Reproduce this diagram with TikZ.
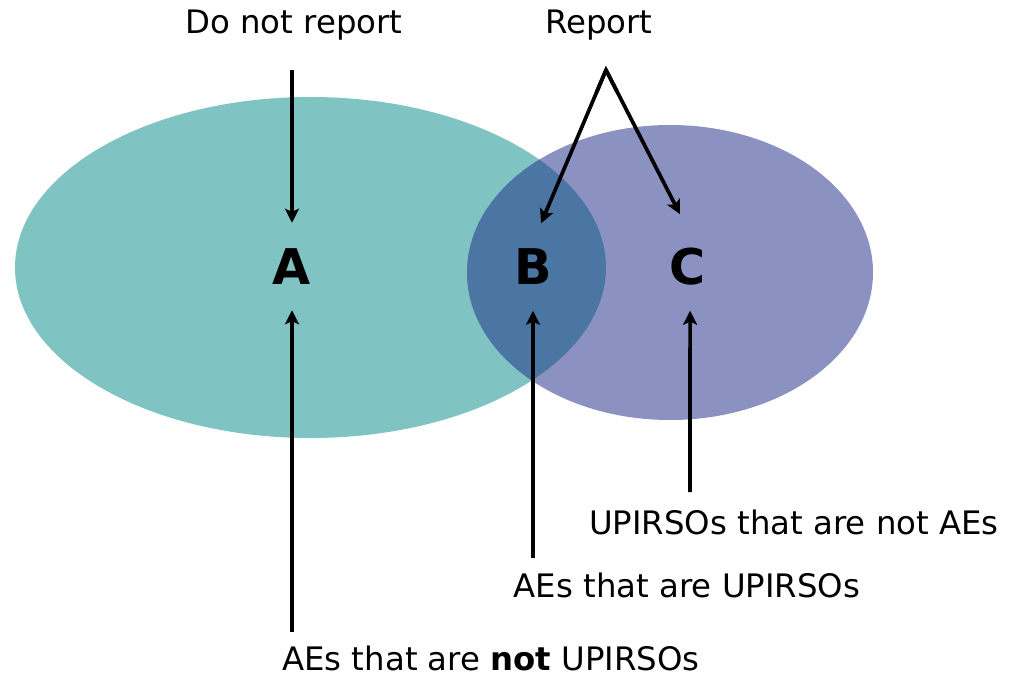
\documentclass[tikz,border=0pt]{standalone}
\usepackage{fontspec}
\setmainfont{DejaVu Sans}
\usetikzlibrary{arrows.meta,calc}
\definecolor{tealfill}{HTML}{7FC3C2}
\definecolor{purplefill}{HTML}{8B92C2}
\definecolor{overlapfill}{HTML}{4B76A3}
\begin{document}
\begin{tikzpicture}[x=0.01cm,y=-0.01cm,
  lbl/.style={font=\fontsize{9.2pt}{11pt}\selectfont, inner sep=0pt},
  letter/.style={font=\fontsize{14pt}{17pt}\selectfont\bfseries, inner sep=0pt, minimum height=0.86cm},
  arr/.style={line width=1.05pt, -{Stealth[length=4pt,width=4pt,inset=0.9pt]}}]
\useasboundingbox (0,0) rectangle (1018,676);
% ellipses
\fill[tealfill] (310.5,267.5) ellipse [x radius=295.5, y radius=170.5];
\fill[purplefill] (670,272.5) ellipse [x radius=203, y radius=147.5];
\begin{scope}
  \clip (310.5,267.5) ellipse [x radius=295.5, y radius=170.5];
  \fill[overlapfill] (670,272.5) ellipse [x radius=203, y radius=147.5];
\end{scope}
% letters
\node[letter] (A) at (292,266.5) {A};
\node[letter] (B) at (533,267) {B};
\node[letter] (C) at (688,267) {C};
% labels
\node[lbl] (dnr) at (294,25) {Do not report};
\node[lbl] (rep) at (599,25) {Report};
\node[lbl] (lc) at (794,522) {UPIRSOs that are not AEs};
\node[lbl] (lb) at (687,585) {AEs that are UPIRSOs};
\node[lbl] (la) at (491,658) {AEs that are \textbf{not} UPIRSOs};
% connector start points
\coordinate (dnrStart) at (292,70);
\coordinate (apex) at (606,70);
\coordinate (aStart) at (292,632);
\coordinate (bStart) at (533,558);
\coordinate (cStart) at (690,492);
% connectors
\draw[arr] (dnrStart) -- (A.north);
\draw[arr] (aStart) -- (A.south);
\draw[line width=1.05pt, line join=miter] ($(apex)!0.15!([xshift=2.3pt]B.north)$) -- (apex) -- ($(apex)!0.15!([xshift=-2.3pt,yshift=2.6pt]C.north)$);
\draw[arr] (apex) -- ([xshift=2.3pt]B.north);
\draw[arr] (apex) -- ([xshift=-2.3pt,yshift=2.6pt]C.north);
\draw[arr] (bStart) -- (B.south);
\draw[arr] (cStart) -- ([xshift=0.6pt]C.south);
\end{tikzpicture}
\end{document}
